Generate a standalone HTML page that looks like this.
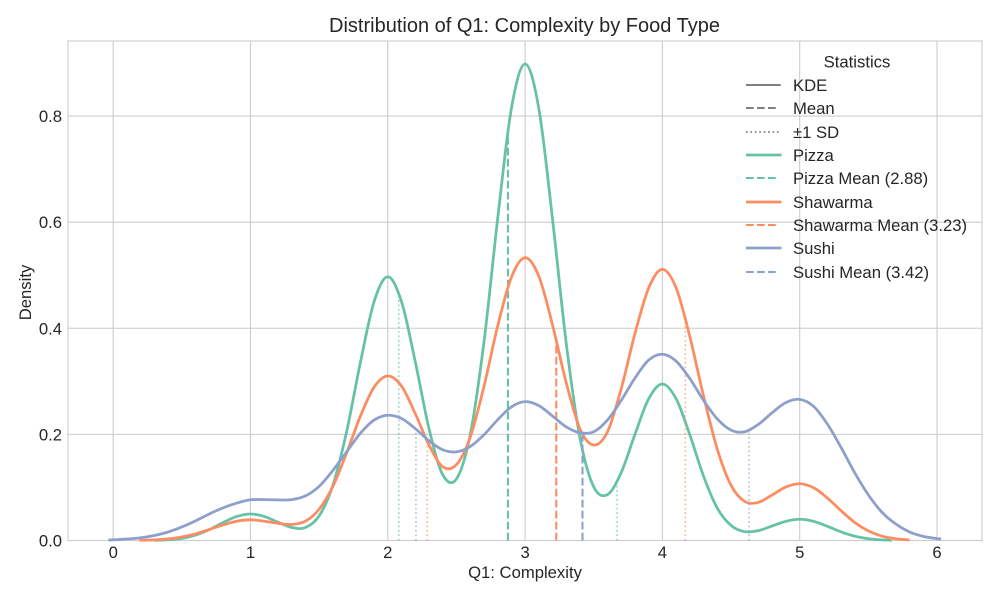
<!DOCTYPE html>
<html lang="en">
<head>
<meta charset="utf-8">
<title>Distribution of Q1: Complexity by Food Type</title>
<style>
  html, body { margin: 0; padding: 0; background: #ffffff; }
  svg { display: block; }
  text { font-family: "Liberation Sans", Arial, sans-serif; fill: #262626; }
</style>
</head>
<body>
<svg id="chart" xmlns="http://www.w3.org/2000/svg" width="1000" height="600" viewBox="0 0 1000 600">
  <rect x="0" y="0" width="1000" height="600" fill="#ffffff"/>
  <g id="grid"></g>
  <rect x="68" y="41" width="914" height="499.5" fill="none" stroke="#cccccc" stroke-width="1.1"/>
  <g id="series"></g>
  <g id="ticks"></g>
  <text x="524.5" y="32" font-size="20" text-anchor="middle">Distribution of Q1: Complexity by Food Type</text>
  <text x="525" y="578" font-size="16.67" text-anchor="middle">Q1: Complexity</text>
  <text transform="translate(31,292.5) rotate(-90)" font-size="16.67" text-anchor="middle">Density</text>

  <g font-size="16.67">
    <text x="857" y="67.5" text-anchor="middle">Statistics</text>
    <line x1="746" x2="780.7" y1="85" y2="85" stroke="#808080" stroke-width="2.08"/>
    <text x="793" y="91">KDE</text>
    <line x1="746" x2="778.5" y1="108" y2="108" stroke="#808080" stroke-width="2.08" stroke-dasharray="7.7 3.3"/>
    <text x="793" y="114">Mean</text>
    <line x1="746" x2="778.5" y1="132" y2="132" stroke="#808080" stroke-width="1.67" stroke-dasharray="1.67 2.75"/>
    <text x="793" y="138">±1 SD</text>
    <line x1="746" x2="781.5" y1="155" y2="155" stroke="#66c2a5" stroke-width="2.78"/>
    <text x="793" y="161">Pizza</text>
    <line x1="746" x2="778.5" y1="178" y2="178" stroke="#66c2a5" stroke-width="2.08" stroke-dasharray="7.7 3.3"/>
    <text x="793" y="184">Pizza Mean (2.88)</text>
    <line x1="746" x2="781.5" y1="202" y2="202" stroke="#fc8d62" stroke-width="2.78"/>
    <text x="793" y="208">Shawarma</text>
    <line x1="746" x2="778.5" y1="225" y2="225" stroke="#fc8d62" stroke-width="2.08" stroke-dasharray="7.7 3.3"/>
    <text x="793" y="231">Shawarma Mean (3.23)</text>
    <line x1="746" x2="781.5" y1="248" y2="248" stroke="#8da0cb" stroke-width="2.78"/>
    <text x="793" y="254">Sushi</text>
    <line x1="746" x2="778.5" y1="272" y2="272" stroke="#8da0cb" stroke-width="2.08" stroke-dasharray="7.7 3.3"/>
    <text x="793" y="278">Sushi Mean (3.42)</text>
  </g>
</svg>
<script>
const xTicks = [0, 1, 2, 3, 4, 5, 6];
const yTicks = [0, 0.2, 0.4, 0.6, 0.8];
const yTickLabels = ["0.0", "0.2", "0.4", "0.6", "0.8"];

const seriesNames = ["pizza", "shawarma", "sushi"];

const pizzaX = [0.3,0.4,0.5,0.6,0.7,0.8,0.9,1.0,1.1,1.2,1.3,1.4,1.5,1.6,1.7,1.8,1.9,2.0,2.1,2.2,2.3,2.4,2.5,2.6,2.7,2.8,2.9,3.0,3.1,3.2,3.3,3.4,3.5,3.6,3.7,3.8,3.9,4.0,4.1,4.2,4.3,4.4,4.5,4.6,4.7,4.8,4.9,5.0,5.1,5.2,5.3,5.4,5.5,5.6,5.67];
const pizzaDensity = [0.0004,0.0014,0.004,0.0103,0.0206,0.0337,0.0453,0.05,0.0453,0.0346,0.0245,0.0245,0.0465,0.104,0.205,0.335,0.45,0.497,0.45,0.337,0.211,0.124,0.116,0.199,0.373,0.606,0.814,0.898,0.814,0.605,0.371,0.193,0.101,0.0865,0.128,0.2,0.267,0.295,0.267,0.199,0.121,0.0608,0.0284,0.0166,0.0187,0.0275,0.0362,0.04,0.0362,0.027,0.0164,0.0082,0.0034,0.0011,0.0004];

const shawarmaX = [0.19,0.3,0.4,0.5,0.6,0.7,0.8,0.9,1.0,1.1,1.2,1.3,1.4,1.5,1.6,1.7,1.8,1.9,2.0,2.1,2.2,2.3,2.4,2.5,2.6,2.7,2.8,2.9,3.0,3.1,3.2,3.3,3.4,3.5,3.6,3.7,3.8,3.9,4.0,4.1,4.2,4.3,4.4,4.5,4.6,4.7,4.8,4.9,5.0,5.1,5.2,5.3,5.4,5.5,5.6,5.7,5.8];
const shawarmaDensity = [0.0004,0.0012,0.003,0.0066,0.0125,0.0206,0.0293,0.0363,0.039,0.0363,0.0326,0.0301,0.0364,0.059,0.102,0.165,0.234,0.289,0.31,0.291,0.239,0.18,0.139,0.143,0.1945,0.29,0.404,0.496,0.533,0.498,0.406,0.297,0.21,0.18,0.205,0.286,0.39,0.476,0.511,0.476,0.384,0.272,0.172,0.104,0.0735,0.072,0.086,0.101,0.107,0.0996,0.0805,0.0564,0.0342,0.0181,0.0082,0.0033,0.0011];

const sushiX = [-0.035,0.0,0.1,0.2,0.3,0.4,0.5,0.6,0.7,0.8,0.9,1.0,1.1,1.2,1.3,1.4,1.5,1.6,1.7,1.8,1.9,2.0,2.1,2.2,2.3,2.4,2.5,2.6,2.7,2.8,2.9,3.0,3.1,3.2,3.3,3.4,3.5,3.6,3.7,3.8,3.9,4.0,4.1,4.2,4.3,4.4,4.5,4.6,4.7,4.8,4.9,5.0,5.1,5.2,5.3,5.4,5.5,5.6,5.7,5.8,5.9,6.0,6.03];
const sushiDensity = [0.001,0.0013,0.0027,0.0052,0.0095,0.016,0.0255,0.037,0.05,0.0615,0.0705,0.0767,0.077,0.0765,0.077,0.084,0.102,0.132,0.167,0.202,0.227,0.236,0.23,0.211,0.188,0.171,0.167,0.177,0.199,0.2275,0.2517,0.2617,0.2542,0.2345,0.214,0.203,0.205,0.227,0.264,0.306,0.34,0.351,0.338,0.305,0.264,0.229,0.208,0.205,0.219,0.241,0.26,0.266,0.253,0.22,0.176,0.128,0.086,0.053,0.031,0.016,0.0078,0.0036,0.003];

const seriesColors = ["#66c2a5", "#fc8d62", "#8da0cb"];
const seriesMeans = [2.875, 3.227, 3.418];
const seriesSds = [0.795, 0.94, 1.213];

const SVG_NS = "http://www.w3.org/2000/svg";
const plot = { left: 68, right: 982, top: 41, bottom: 540.5 };

function xScale(v) { return 113.2 + 137.3 * v; }
function yScale(v) { return 540.5 - 530.6 * v; }

function makeEl(tag, attrs) {
  const el = document.createElementNS(SVG_NS, tag);
  for (const k in attrs) el.setAttribute(k, attrs[k]);
  return el;
}

function densityAt(xs, ys, x) {
  if (x <= xs[0]) return ys[0];
  for (let i = 1; i < xs.length; i++) {
    if (x <= xs[i]) {
      const p0 = ys[Math.max(i - 2, 0)], p1 = ys[i - 1], p2 = ys[i], p3 = ys[Math.min(i + 1, ys.length - 1)];
      const t = (x - xs[i - 1]) / (xs[i] - xs[i - 1]);
      return 0.5 * (2 * p1 + (p2 - p0) * t + (2 * p0 - 5 * p1 + 4 * p2 - p3) * t * t + (3 * p1 - p0 - 3 * p2 + p3) * t * t * t);
    }
  }
  return ys[ys.length - 1];
}

function curvePath(xs, ys) {
  const pts = xs.map((x, i) => [xScale(x), yScale(ys[i])]);
  let d = "M" + pts[0][0].toFixed(2) + " " + pts[0][1].toFixed(2);
  for (let i = 0; i < pts.length - 1; i++) {
    const p0 = pts[Math.max(i - 1, 0)], p1 = pts[i], p2 = pts[i + 1], p3 = pts[Math.min(i + 2, pts.length - 1)];
    const c1x = p1[0] + (p2[0] - p0[0]) / 6, c1y = p1[1] + (p2[1] - p0[1]) / 6;
    const c2x = p2[0] - (p3[0] - p1[0]) / 6, c2y = p2[1] - (p3[1] - p1[1]) / 6;
    d += "C" + c1x.toFixed(2) + " " + c1y.toFixed(2) + " " + c2x.toFixed(2) + " " + c2y.toFixed(2) + " " + p2[0].toFixed(2) + " " + p2[1].toFixed(2);
  }
  return d;
}

const gridGroup = document.getElementById("grid");
const tickGroup = document.getElementById("ticks");
const seriesGroup = document.getElementById("series");

xTicks.forEach(function (t) {
  const line = makeEl("line", { x1: xScale(t), x2: xScale(t), y1: plot.top, y2: plot.bottom, stroke: "#cccccc", "stroke-width": 1.1 });
  
  
  gridGroup.appendChild(line);
  const label = makeEl("text", { x: xScale(t), y: 558, "font-size": 16.67, "text-anchor": "middle" });
  label.textContent = String(t);
  
  
  tickGroup.appendChild(label);
});

yTicks.forEach(function (t, i) {
  const line = makeEl("line", { x1: plot.left, x2: plot.right, y1: yScale(t), y2: yScale(t), stroke: "#cccccc", "stroke-width": 1.1 });
  
  
  gridGroup.appendChild(line);
  const label = makeEl("text", { x: 62, y: yScale(t) + 6, "font-size": 16.67, "text-anchor": "end" });
  label.textContent = yTickLabels[i];
  
  
  tickGroup.appendChild(label);
});

const seriesXs = [pizzaX, shawarmaX, sushiX];
const seriesYs = [pizzaDensity, shawarmaDensity, sushiDensity];

seriesNames.forEach(function (name, i) {
  const xs = seriesXs[i], ys = seriesYs[i], color = seriesColors[i];

  const curve = makeEl("path", { d: curvePath(xs, ys), fill: "none", stroke: color, "stroke-width": 2.78, "stroke-linejoin": "round" });
  
  
  seriesGroup.appendChild(curve);

  const m = seriesMeans[i];
  const meanLine = makeEl("line", { x1: xScale(m), x2: xScale(m), y1: yScale(0), y2: yScale(densityAt(xs, ys, m)), stroke: color, "stroke-width": 2.08, "stroke-dasharray": "7.7 3.3" });
  
  
  seriesGroup.appendChild(meanLine);

  [m - seriesSds[i], m + seriesSds[i]].forEach(function (v) {
    const sdLine = makeEl("line", { x1: xScale(v), x2: xScale(v), y1: yScale(0), y2: yScale(densityAt(xs, ys, v)), stroke: color, "stroke-width": 1.67, "stroke-dasharray": "1.67 2.75", "stroke-opacity": 0.65 });
    
    
    seriesGroup.appendChild(sdLine);
  });
});
</script>
</body>
</html>
